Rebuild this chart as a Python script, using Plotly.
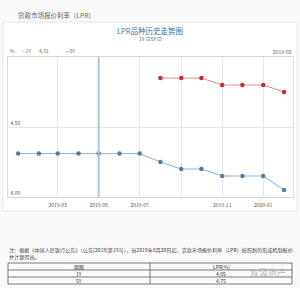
import plotly.graph_objects as go

# ---- data ----
dates_1y = ["2019-01-01", "2019-02-01", "2019-03-01", "2019-04-01", "2019-05-01",
            "2019-06-01", "2019-07-01", "2019-08-01", "2019-09-01", "2019-10-01",
            "2019-11-01", "2019-12-01", "2020-01-01", "2020-02-01"]
lpr_1y = [4.31, 4.31, 4.31, 4.31, 4.31, 4.31, 4.31, 4.25, 4.20, 4.20, 4.15, 4.15, 4.15, 4.05]
dates_5y = ["2019-08-01", "2019-09-01", "2019-10-01", "2019-11-01", "2019-12-01",
            "2020-01-01", "2020-02-01"]
lpr_5y = [4.85, 4.85, 4.85, 4.80, 4.80, 4.80, 4.75]
x_tickvals = ["2019-03-01", "2019-05-01", "2019-07-01", "2019-09-01", "2019-11-01", "2020-01-01"]
x_ticktext = ["2019-03", "2019-05", "2019-07", "", "2019-11", "2020-01"]
y_tickvals = [4.0, 4.5]
y_ticktext = ["4.00", "4.50"]
table_rows = [["期限", "LPR(%)"], ["1Y", "4.05"], ["5Y", "4.75"]]
hover_date = "2019-05-01"

FONT = "Noto Sans CJK SC"
W, H = 300, 288

def py(pix):
    return 1 - pix / H

def px(pix):
    return pix / W

fig = go.Figure()
fig.add_trace(go.Scatter(x=dates_1y, y=lpr_1y, mode="lines+markers",
                         line=dict(color="#8fb2cf", width=1),
                         marker=dict(color="#4f7fa8", size=4.5), showlegend=False))
fig.add_trace(go.Scatter(x=dates_5y, y=lpr_5y, mode="lines+markers",
                         line=dict(color="#e58a8a", width=1),
                         marker=dict(color="#d02a2a", size=4.5), showlegend=False))

shapes = []
# page panel
shapes.append(dict(type="rect", xref="paper", yref="paper", x0=px(3), x1=px(297),
                   y0=py(211), y1=py(22), line=dict(color="#e6e6e6", width=1),
                   fillcolor="white", layer="below"))
# crosshair
shapes.append(dict(type="line", xref="x", yref="paper", x0=hover_date, x1=hover_date,
                   y0=py(197), y1=py(57), line=dict(color="#a8c8d6", width=2)))
# table
tx0, tx1, tmid = 8, 292, 150
ty = [263, 270, 277, 284]
for yy in ty:
    shapes.append(dict(type="line", xref="paper", yref="paper", x0=px(tx0), x1=px(tx1),
                       y0=py(yy), y1=py(yy), line=dict(color="#777", width=1)))
for xx in (tx0, tmid, tx1):
    shapes.append(dict(type="line", xref="paper", yref="paper", x0=px(xx), x1=px(xx),
                       y0=py(ty[0]), y1=py(ty[-1]), line=dict(color="#777", width=1)))

ann = []
def text(x, y, t, size=5, color="#555", xanchor="left", **kw):
    ann.append(dict(x=px(x), y=py(y), xref="paper", yref="paper", text=t, showarrow=False,
                    xanchor=xanchor, yanchor="middle", font=dict(family=FONT, size=size, color=color), **kw))

text(16, 15, "贷款市场报价利率（LPR）", size=6.5, color="#666")
text(150, 31, "LPR品种历史走势图", size=7.5, color="#3a6fa6", xanchor="center")
text(150, 38.5, "1Y ☑ 5Y ☑", size=5, color="#555", xanchor="center")
text(8, 50, "%", size=5, color="#666")
text(19, 50, "<span style='color:#4f7fa8'>—</span>1Y", size=5, color="#666")
text(37, 50, "4.31", size=5, color="#666")
text(63, 50, "<span style='color:#d02a2a'>—</span>5Y", size=5, color="#666")
text(294, 51, "2019-02", size=5, color="#666", xanchor="right")
text(7, 250, "注：根据《中国人民银行公告》（公告[2019]第15号），自2019年8月20日起，贷款市场报价利率（LPR）按照新的形成机制报价", size=5.1, color="#444")
text(7, 257, "并计算得出。", size=5.1, color="#444")
for i, row in enumerate(table_rows):
    yc = (ty[i] + ty[i + 1]) / 2
    text((tx0 + tmid) / 2, yc, row[0], size=5, color="#333", xanchor="center")
    text((tmid + tx1) / 2, yc, row[1], size=5, color="#333", xanchor="center")
text(268, 272, "双汲地产", size=9, color="#b5b5b5", xanchor="center")

fig.update_layout(
    width=W, height=H, margin=dict(l=0, r=0, t=0, b=0),
    paper_bgcolor="#fafafa", plot_bgcolor="white",
    shapes=shapes, annotations=ann,
    xaxis=dict(domain=[px(8), px(293)], type="date",
               range=["2018-12-17", "2020-02-14 10:00"],
               tickvals=x_tickvals, ticktext=x_ticktext,
               showgrid=True, gridcolor="#e3e9ee", gridwidth=1,
               showline=True, linecolor="#cfd6dc", mirror=True, zeroline=False,
               ticks="", tickfont=dict(family=FONT, size=5, color="#555"), ticklabelstandoff=3),
    yaxis=dict(domain=[py(197), py(57)], range=[4.0, 5.0],
               tickvals=y_tickvals, ticktext=y_ticktext,
               showgrid=True, gridcolor="#e6e6e6", gridwidth=1,
               showline=True, linecolor="#dddddd", mirror=True, zeroline=False,
               ticks="", ticklabelposition="inside top",
               tickfont=dict(family=FONT, size=5, color="#555")),
)

fig.write_html("out.html")
